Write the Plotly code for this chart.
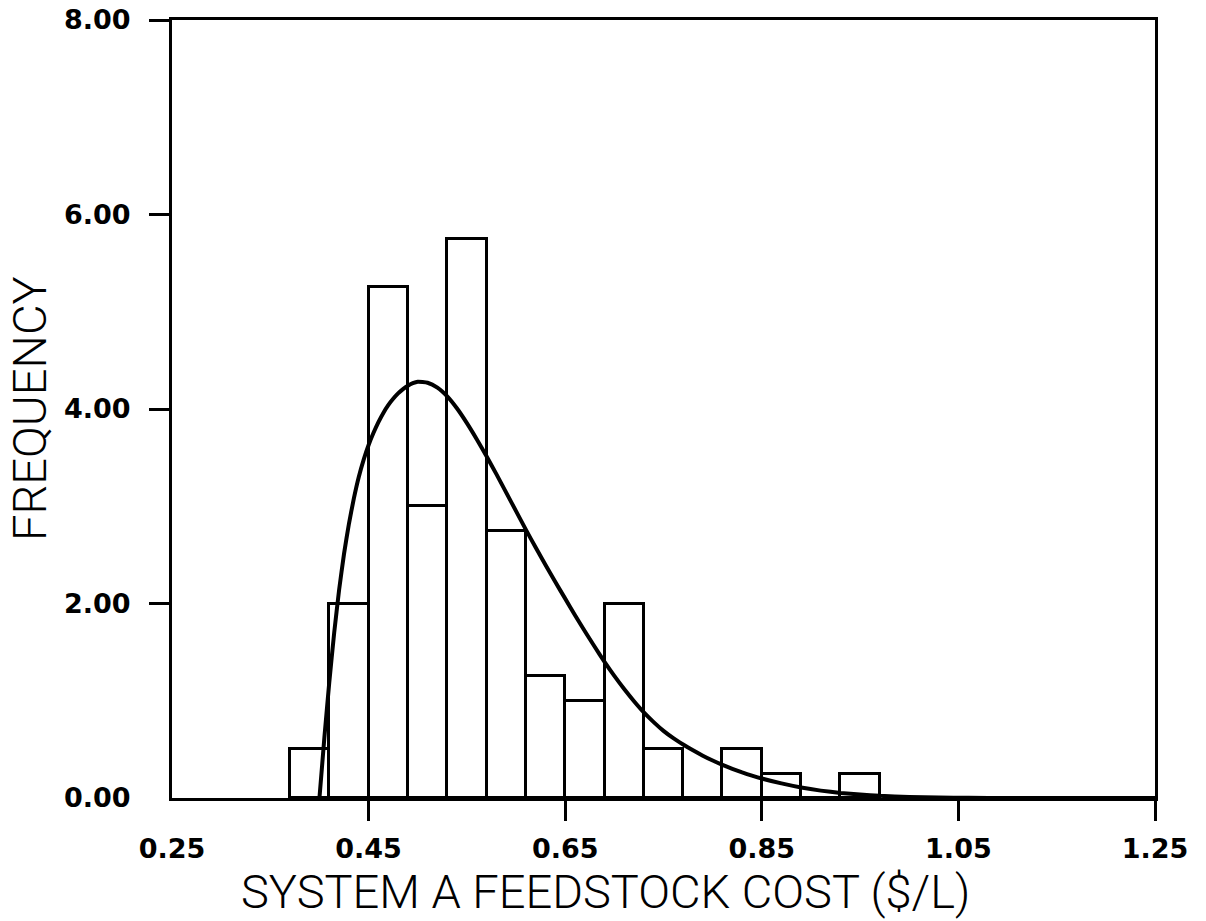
import plotly.graph_objects as go

# ---- data ----
bin_centers = [0.39, 0.43, 0.47, 0.51, 0.55, 0.59, 0.63, 0.67, 0.71, 0.75, 0.79, 0.83, 0.87, 0.91, 0.95]
bin_heights = [0.50, 2.00, 5.25, 3.00, 5.75, 2.75, 1.25, 1.00, 2.00, 0.50, 0.00, 0.50, 0.25, 0.00, 0.25]
bin_width = 0.04

curve_x = [0.400, 0.405, 0.410, 0.415, 0.420, 0.425, 0.430, 0.435, 0.440, 0.445,
           0.450, 0.455, 0.460, 0.465, 0.470, 0.475, 0.480, 0.485, 0.490, 0.495,
           0.500, 0.510, 0.520, 0.530, 0.540, 0.550, 0.560, 0.570, 0.580, 0.590,
           0.600, 0.610, 0.620, 0.630, 0.640, 0.650, 0.660, 0.670, 0.680, 0.690,
           0.700, 0.710, 0.720, 0.730, 0.740, 0.750, 0.760, 0.770, 0.780, 0.790,
           0.800, 0.810, 0.820, 0.830, 0.840, 0.850, 0.870, 0.890, 0.910, 0.930,
           0.950, 0.970, 1.000, 1.030, 1.060, 1.100, 1.250]
curve_y = [0.00, 0.62, 1.19, 1.70, 2.14, 2.51, 2.82, 3.08, 3.30, 3.48,
           3.63, 3.755, 3.865, 3.96, 4.04, 4.105, 4.16, 4.205, 4.24, 4.265,
           4.28, 4.27, 4.22, 4.13, 4.005, 3.855, 3.69, 3.515, 3.33, 3.14,
           2.95, 2.76, 2.575, 2.395, 2.22, 2.05, 1.88, 1.715, 1.555, 1.40,
           1.255, 1.12, 0.995, 0.88, 0.78, 0.69, 0.615, 0.55, 0.49, 0.435,
           0.385, 0.34, 0.30, 0.263, 0.23, 0.20, 0.15, 0.108, 0.076, 0.052,
           0.035, 0.022, 0.011, 0.005, 0.002, 0.0, 0.0]

x_tick_vals = [0.25, 0.45, 0.65, 0.85, 1.05, 1.25]
x_tick_text = ["0.25", "0.45", "0.65", "0.85", "1.05", "1.25"]
y_tick_vals = [0, 2, 4, 6, 8]
y_tick_text = ["0.00", "2.00", "4.00", "6.00", "8.00"]

x_title = "SYSTEM A FEEDSTOCK COST ($/L)"
y_title = "FREQUENCY"

tick_font = dict(family="DejaVu Sans", size=27, color="black", weight="bold")
title_font = dict(family="Roboto", size=47, color="black", weight=300)

fig = go.Figure()
fig.add_trace(go.Bar(x=bin_centers, y=bin_heights, width=bin_width,
                     marker=dict(color="white", line=dict(color="black", width=3)),
                     showlegend=False, hoverinfo="skip"))
fig.add_trace(go.Scatter(x=curve_x, y=curve_y, mode="lines",
                         line=dict(color="black", width=4, shape="spline", smoothing=0.5),
                         showlegend=False, hoverinfo="skip"))
# empty trace so the overlay axes (tick marks only) are drawn
fig.add_trace(go.Scatter(x=[], y=[], xaxis="x2", yaxis="y2", showlegend=False,
                         hoverinfo="skip"))

fig.update_layout(
    width=1206, height=921,
    margin=dict(l=172, r=51, t=20, b=123),
    paper_bgcolor="white", plot_bgcolor="white",
    bargap=0,
    xaxis=dict(range=[0.25, 1.25], tickvals=x_tick_vals, ticktext=x_tick_text,
               ticks="outside", ticklen=25, tickcolor="rgba(0,0,0,0)",
               showline=True, linecolor="black", linewidth=3, mirror=True,
               showgrid=False, zeroline=False, tickfont=tick_font, automargin=False),
    yaxis=dict(range=[0, 8], tickvals=y_tick_vals, ticktext=y_tick_text,
               ticks="outside", ticklen=33, tickcolor="rgba(0,0,0,0)",
               showline=True, linecolor="black", linewidth=3, mirror=True,
               showgrid=False, zeroline=False, tickfont=tick_font, automargin=False),
    xaxis2=dict(range=[0.25, 1.25], overlaying="x", anchor="y2", side="bottom",
                tickvals=x_tick_vals[1:], ticks="outside", ticklen=22, tickwidth=3,
                tickcolor="black", showticklabels=False, showline=False,
                showgrid=False, zeroline=False, automargin=False),
    yaxis2=dict(range=[0, 8], overlaying="y", anchor="x2", side="left",
                tickvals=y_tick_vals[1:], ticks="outside", ticklen=22, tickwidth=3,
                tickcolor="black", showticklabels=False, showline=False,
                showgrid=False, zeroline=False, automargin=False),
    annotations=[
        dict(text=x_title, xref="paper", yref="paper", x=0.441, y=0, yshift=-93,
             xanchor="center", yanchor="middle", showarrow=False, font=title_font),
        dict(text=y_title, xref="paper", yref="paper", x=0, y=0.5, xshift=-143,
             xanchor="center", yanchor="middle", textangle=-90, showarrow=False,
             font=title_font),
    ],
)

fig.write_html("out.html")
